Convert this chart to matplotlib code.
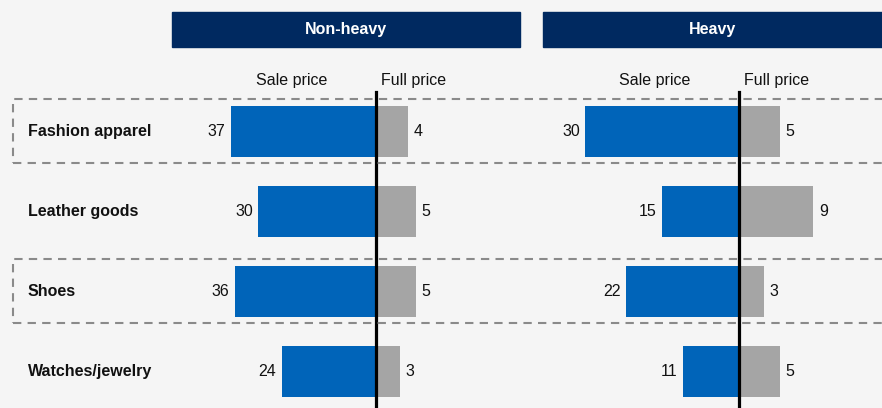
import matplotlib
matplotlib.use('Agg')
import matplotlib.pyplot as plt
from matplotlib.patches import Rectangle

plt.rcParams['font.family'] = ['Liberation Sans', 'DejaVu Sans']

categories = ['Fashion apparel', 'Leather goods', 'Shoes', 'Watches/jewelry']
panels = ['Non-heavy', 'Heavy']
nonheavy_sale = [37, 30, 36, 24]
nonheavy_full = [4, 5, 5, 3]
heavy_sale = [30, 15, 22, 11]
heavy_full = [5, 9, 3, 5]
highlighted = ['Fashion apparel', 'Shoes']

BG = '#f5f5f5'
NAVY = '#002960'
BLUE = '#0064b9'
GREY = '#a5a5a5'
W, H = 882, 408

fig = plt.figure(figsize=(W / 100, H / 100), dpi=100, facecolor=BG)


def box(x0, y0, x1, y1):
    # pixel box (top-left origin) -> figure fraction rect
    return [x0 / W, 1 - y1 / H, (x1 - x0) / W, (y1 - y0) / H]


top, bottom = 92, 408
row_gap = 80
first_row = 131.5
ylim = ((bottom - first_row) / row_gap, -(first_row - top) / row_gap)
ypos = list(range(len(categories)))

# (sale axis px, full axis px, sale xlim, full xlim)
layout = [
    ((172, 376), (376, 520), 52.0, 18.0),
    ((543, 739), (739, 882), 38.3, 17.33),
]
data = [(nonheavy_sale, nonheavy_full), (heavy_sale, heavy_full)]

for p, (name, (sale, full), (sx, fx, smax, fmax)) in enumerate(zip(panels, data, layout)):
    ax_s = fig.add_axes(box(sx[0], top, sx[1], bottom))
    ax_f = fig.add_axes(box(fx[0], top, fx[1], bottom))
    for ax in (ax_s, ax_f):
        ax.set_facecolor('none')
        ax.axis('off')
        ax.set_ylim(*ylim)
    ax_s.set_xlim(-smax, 0)
    ax_f.set_xlim(0, fmax)

    ax_s.barh(ypos, [-v for v in sale], height=0.64, color=BLUE)
    ax_f.barh(ypos, full, height=0.64, color=GREY)
    for y, v in zip(ypos, sale):
        ax_s.annotate(str(v), (-v, y), xytext=(-4, 0), textcoords='offset points',
                      ha='right', va='center', fontsize=11.5, color='#111111')
    for y, v in zip(ypos, full):
        ax_f.annotate(str(v), (v, y), xytext=(4, 0), textcoords='offset points',
                      ha='left', va='center', fontsize=11.5, color='#111111')
    ax_f.axvline(0, color='black', lw=2.3, zorder=5, clip_on=False)

    # header bar
    hx0 = sx[0]
    hx1 = 520 if p == 0 else 882
    fig.patches.append(Rectangle((hx0 / W, 1 - 46.5 / H), (hx1 - hx0) / W, 34.5 / H,
                                 transform=fig.transFigure, color=NAVY))
    fig.text((hx0 + hx1) / 2 / W, 1 - 29.5 / H, name, color='white', fontsize=11.5,
             fontweight='bold', ha='center', va='center')

    # column labels
    fig.text(((sx[1] - 84) / W), 1 - 80 / H, 'Sale price', ha='center', va='center',
             fontsize=11.5, color='#111111')
    fig.text((sx[1] + 38) / W, 1 - 80 / H, 'Full price', ha='center', va='center',
             fontsize=11.5, color='#111111')

# category labels
for i, cat in enumerate(categories):
    yc = first_row + i * row_gap
    fig.text(28 / W, 1 - yc / H, cat, fontsize=11.5, fontweight='bold',
             ha='left', va='center', color='#111111')
    if cat in highlighted:
        rect = Rectangle((13 / W, 1 - (yc + 31.5) / H), 880 / W, 64 / H,
                         transform=fig.transFigure, fill=False, edgecolor='#8a8a8a',
                         lw=1.5, linestyle=(0, (4, 3)), zorder=0)
        fig.patches.append(rect)

fig.savefig('out.png', dpi=100, facecolor=BG)
